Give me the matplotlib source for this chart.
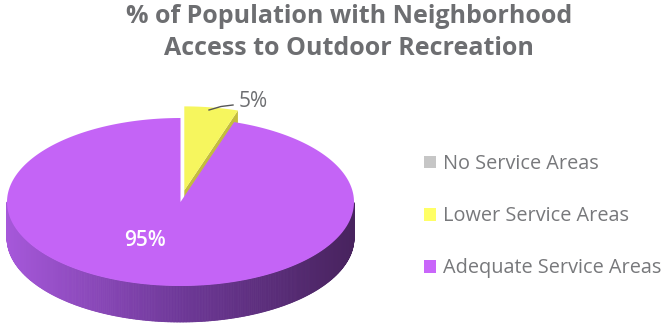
import numpy as np
import matplotlib
matplotlib.use("Agg")
import matplotlib.pyplot as plt
from matplotlib.patches import Polygon, Patch
from matplotlib.collections import PolyCollection
from matplotlib.colors import to_rgb

# Daten
kategorien = ["No Service Areas", "Lower Service Areas", "Adequate Service Areas"]
anteile = [0, 5, 95]
farben_oben = ["#c6c6c6", "#f6f65e", "#c464f6"]
farben_seite = ["#9a9a9a", "#c4bd3c", "#8a45b8"]
farben_legende = ["#c6c6c6", "#ffff66", "#c966fa"]
explodiert = [0, 0.14, 0]
beschriftung = ["", "5%", "95%"]

titel_zeilen = ["% of Population with Neighborhood", "Access to Outdoor Recreation"]

# Ellipse der Torte (Pixel)
cx, cy = 180.5, 202.0
ra, rb = 173.5, 84.0
tiefe = 36.0

plt.rcParams['font.family'] = ['Open Sans', 'DejaVu Sans']
fig = plt.figure(figsize=(6.63, 3.25), dpi=100)
ax = fig.add_axes([0, 0, 1, 1])
ax.set_xlim(0, 663)
ax.set_ylim(325, 0)
ax.axis('off')


def punkt(theta, dx=0.0, dy=0.0, unten=0.0):
    t = np.radians(theta)
    return np.column_stack([cx + dx + ra * np.cos(t), cy + dy - rb * np.sin(t) + unten])


def farbe_mischen(c1, c2, f):
    a, b = np.array(to_rgb(c1)), np.array(to_rgb(c2))
    return tuple(a + (b - a) * f)


gesamt = sum(anteile)
start = 90.0
segmente = []
for i, wert in enumerate(anteile):
    if wert == 0:
        continue
    ende = start - wert / gesamt * 360.0
    mitte = np.radians((start + ende) / 2)
    dx = explodiert[i] * ra * np.cos(mitte)
    dy = -explodiert[i] * rb * np.sin(mitte)
    segmente.append((i, start, ende, dx, dy))
    start = ende

# hintere Stücke zuerst zeichnen
segmente.sort(key=lambda s: -np.sin(np.radians((s[1] + s[2]) / 2)))

for i, t1, t2, dx, dy in segmente:
    # radiale Seitenwand am Ende (im Uhrzeigersinn)
    if np.cos(np.radians(t2)) > 1e-6:
        p = punkt(np.array([t2]), dx, dy)[0]
        wand = [(cx + dx, cy + dy), tuple(p), (p[0], p[1] + tiefe), (cx + dx, cy + dy + tiefe)]
        ax.add_patch(Polygon(wand, closed=True, facecolor=farben_seite[i], edgecolor='none'))

    # Außenwand vorne mit Verlauf
    lo, hi = min(t1, t2), max(t1, t2)
    winkel = np.linspace(lo, hi, 700)
    vorne = winkel[np.sin(np.radians(winkel)) < 0]
    if len(vorne) > 1:
        oben = punkt(vorne, dx, dy)
        unten = punkt(vorne, dx, dy, tiefe)
        quads, cols = [], []
        for k in range(len(vorne) - 1):
            quads.append([oben[k], oben[k + 1], unten[k + 1], unten[k]])
            f = (oben[k][0] - (cx - ra)) / (2 * ra)
            if f < 0.5:
                c = farbe_mischen("#a658da", "#6e3898", f / 0.5)
            else:
                c = farbe_mischen("#6e3898", "#48235e", (f - 0.5) / 0.5)
            cols.append(c)
        ax.add_collection(PolyCollection(quads, facecolors=cols, edgecolors=cols, linewidths=0.6))

    # Deckfläche
    bogen = punkt(np.linspace(t1, t2, 300), dx, dy)
    flaeche = np.vstack([[cx + dx, cy + dy], bogen])
    ax.add_patch(Polygon(flaeche, closed=True, facecolor=farben_oben[i], edgecolor='none'))

# Beschriftungen
ax.plot([209, 221, 233], [110, 106.5, 105], color='#555555', lw=1.0)
ax.text(239, 101.5, beschriftung[1], fontsize=15, color='#6d6e71', ha='left', va='center')
ax.text(145, 240.5, beschriftung[2], fontsize=15, color='white', ha='center', va='center',
        fontweight='semibold')

# Legende
griffe = [Patch(facecolor=c, edgecolor='none') for c in farben_legende]
ax.legend(griffe, kategorien, loc='upper left', bbox_to_anchor=(0.6395, 0.526),
          frameon=False, fontsize=14.3, labelcolor='#77787b', handlelength=0.62,
          handleheight=0.62, handletextpad=0.32, labelspacing=1.62, borderpad=0,
          borderaxespad=0)

# Titel, zwei Zeilen
for zeile, y in zip(titel_zeilen, [23, 55]):
    ax.text(349, y, zeile, fontsize=18, fontweight='bold', color='#6d6e71',
            ha='center', va='baseline')

fig.savefig('out.png', dpi=100)
